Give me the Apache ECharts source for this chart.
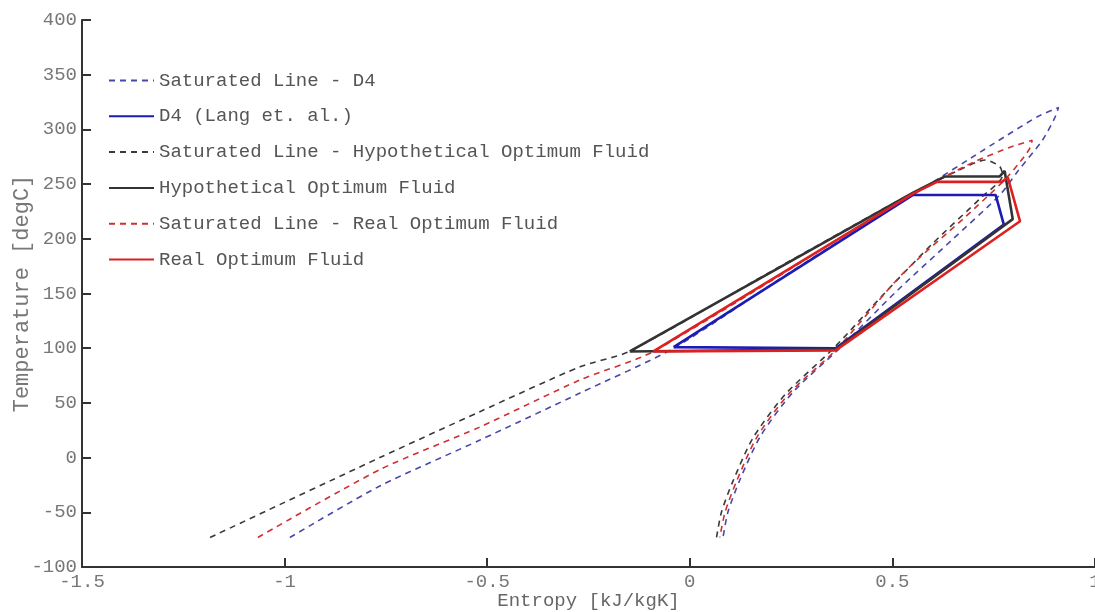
<!DOCTYPE html>
<html>
<head>
<meta charset="utf-8">
<script src="https://cdn.jsdelivr.net/npm/echarts@6/dist/echarts.min.js"></script>
<style>
html,body{margin:0;padding:0;background:#fff;}
#chart{width:1095px;height:612px;}
</style>
</head>
<body>
<div id="chart"></div>
<script>
// ---- Data: [entropy kJ/kgK, temperature degC] ----
const seriesNames = [
  'Saturated Line - D4',
  'D4 (Lang et. al.)',
  'Saturated Line - Hypothetical Optimum Fluid',
  'Hypothetical Optimum Fluid',
  'Saturated Line - Real Optimum Fluid',
  'Real Optimum Fluid'
];

const satD4 = [
  [-0.987,-73],[-0.765,-26],[-0.518,16],[-0.271,59],[-0.04,100],[0.25,170],[0.55,240],
  [0.75,287],[0.86,312],[0.91,320],
  [0.90,310],[0.87,290],[0.81,262],[0.765,240],[0.65,200],[0.51,152],[0.37,100],
  [0.255,60],[0.175,20],[0.124,-20],[0.094,-50],[0.082,-73]
];
const cycleD4 = [
  [-0.04,101],[0.55,240],[0.755,240],[0.775,213],[0.36,100],[-0.04,101]
];

const satHyp = [
  [-1.184,-73],[-0.765,0],[-0.518,42],[-0.271,83],[-0.15,97],[0.2,170],[0.55,242],
  [0.66,262],[0.73,272],
  [0.765,266],[0.772,258],[0.72,238],[0.60,196],[0.48,150],[0.355,100],
  [0.236,58],[0.156,18],[0.106,-22],[0.078,-50],[0.066,-73]
];
const cycleHyp = [
  [-0.148,97],[0.55,242],[0.63,257],[0.765,257],[0.777,262],[0.797,218],[0.36,99],[-0.148,97]
];

const satReal = [
  [-1.066,-73],[-0.765,-11],[-0.518,28],[-0.271,71],[-0.09,97],[0.55,241],
  [0.70,270],[0.80,285],[0.845,290],
  [0.838,282],[0.81,268],[0.775,253],[0.68,220],[0.525,168],[0.362,99],
  [0.246,59],[0.166,19],[0.116,-21],[0.087,-50],[0.074,-73]
];
const cycleReal = [
  [-0.09,97],[0.55,241],[0.61,252],[0.77,252],[0.785,256],[0.815,216],[0.36,98],[-0.09,97]
];

const xTicks = {min:-1.5, max:1, interval:0.5};
const yTicks = {min:-100, max:400, interval:50};

// ---- Chart ----
const FONT = '"Liberation Mono", "DejaVu Sans Mono", monospace';
const chart = echarts.init(document.getElementById('chart'));

function dashed(name, data, color) {
  return {
    name, type:'line', data, showSymbol:false, symbol:'none', smooth:0.25,
    lineStyle:{color, width:1.6, type:[6,5]}, itemStyle:{color}, z:2
  };
}
function solid(name, data, color) {
  return {
    name, type:'line', data, showSymbol:false, symbol:'none', smooth:false,
    lineStyle:{color, width:2.6}, itemStyle:{color}, z:3
  };
}

chart.setOption({
  backgroundColor:'#fff',
  animation:false,
  grid:{left:82, right:0, top:20, bottom:45, containLabel:false, outerBoundsMode:'none'},
  legend:{
    orient:'vertical', left:103, top:65,
    itemWidth:45, itemHeight:14, itemGap:14.8,
    itemStyle:{opacity:0},
    textStyle:{fontFamily:FONT, fontSize:19, color:'#555', lineHeight:21},
    data:seriesNames
  },
  xAxis:{
    type:'value', min:xTicks.min, max:xTicks.max, interval:xTicks.interval,
    name:'Entropy [kJ/kgK]', nameLocation:'middle', nameGap:24, nameMoveOverlap:false,
    nameTextStyle:{fontFamily:FONT, fontSize:19, color:'#666'},
    axisLine:{onZero:false, lineStyle:{color:'#333', width:2}},
    axisTick:{inside:true, length:9, lineStyle:{color:'#333', width:2}},
    axisLabel:{fontFamily:FONT, fontSize:19, color:'#777', margin:5},
    splitLine:{show:false}
  },
  yAxis:{
    type:'value', min:yTicks.min, max:yTicks.max, interval:yTicks.interval,
    name:'Temperature [degC]', nameLocation:'middle', nameGap:49, nameMoveOverlap:false,
    nameTextStyle:{fontFamily:FONT, fontSize:22, color:'#777'},
    axisLine:{onZero:false, lineStyle:{color:'#333', width:2}},
    axisTick:{inside:true, length:9, lineStyle:{color:'#333', width:2}},
    axisLabel:{fontFamily:FONT, fontSize:19, color:'#777', margin:5},
    splitLine:{show:false}
  },
  series:[
    dashed(seriesNames[0], satD4, '#4848a8'),
    solid(seriesNames[1], cycleD4, '#1c1cb4'),
    dashed(seriesNames[2], satHyp, '#3a3a3a'),
    solid(seriesNames[3], cycleHyp, '#333333'),
    dashed(seriesNames[4], satReal, '#d03030'),
    solid(seriesNames[5], cycleReal, '#dd2020')
  ]
});
</script>
</body>
</html>
